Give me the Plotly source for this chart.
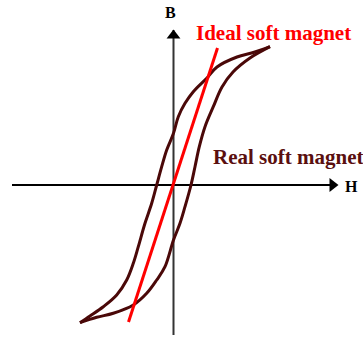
import plotly.graph_objects as go

# Hysteresis loop of a real soft magnet (H, B in arbitrary units)
# descending branch: from positive saturation back to negative saturation
desc_H = [9.65, 7.98, 6.35, 4.35, 3.32, 1.98, 1.15, 0.48, 0.0, -0.68, -1.18, -1.68,
          -2.18, -2.85, -3.52, -4.02, -4.68, -5.68, -7.02, -8.35, -9.35]
desc_B = [13.83, 13.25, 12.8, 11.8, 10.67, 9.33, 8.17, 6.83, 5.17, 3.5, 1.83, 0.0,
          -1.83, -3.83, -6.17, -7.83, -9.5, -11.0, -12.17, -13.1, -13.77]
# ascending branch: from negative saturation up to positive saturation
asc_H = [-9.35, -7.68, -6.02, -4.02, -2.68, -1.68, -0.85, 0.0, 0.65, 1.15, 1.75,
         2.15, 2.58, 3.15, 3.98, 4.85, 5.95, 7.65, 9.65]
asc_B = [-13.77, -13.23, -12.83, -12.0, -10.83, -9.5, -8.17, -5.5, -3.83, -2.17, 0.0,
         1.83, 3.83, 5.83, 7.83, 9.8, 11.3, 12.7, 13.83]

# Ideal soft magnet: straight line through the origin
ideal_H = [-4.5, 4.4]
ideal_B = [-13.7, 13.7]

# Extent of the drawn H and B axes
h_axis = [-16.15, 16.35]
b_axis = [-15.0, 15.5]

LOOP = "#4a0808"
RED = "#ff0000"
SERIF = "Liberation Serif, Times New Roman, serif"

fig = go.Figure()

# Coordinate axes
fig.add_trace(go.Scatter(x=h_axis, y=[0, 0], mode="lines",
                         line=dict(color="#000000", width=2), hoverinfo="skip"))
fig.add_trace(go.Scatter(x=[0, 0], y=b_axis, mode="lines",
                         line=dict(color="#333333", width=2), hoverinfo="skip"))
# Arrowheads
fig.add_trace(go.Scatter(x=[h_axis[1] - 0.45], y=[0], mode="markers",
                         marker=dict(symbol="triangle-right", size=12, color="#000000"),
                         hoverinfo="skip"))
fig.add_trace(go.Scatter(x=[0], y=[b_axis[1] - 0.55], mode="markers",
                         marker=dict(symbol="triangle-up", size=12, color="#000000"),
                         hoverinfo="skip"))

# Real soft magnet loop
for hx, by in ((desc_H, desc_B), (asc_H, asc_B)):
    fig.add_trace(go.Scatter(x=hx, y=by, mode="lines",
                             line=dict(color=LOOP, width=3, shape="spline", smoothing=1.0),
                             hoverinfo="skip"))

# Ideal soft magnet line
fig.add_trace(go.Scatter(x=ideal_H, y=ideal_B, mode="lines",
                         line=dict(color=RED, width=3), hoverinfo="skip"))

annotations = [
    dict(x=2.05, y=15.2, text="<b>Ideal soft magnet</b>", xanchor="left", yanchor="middle",
         font=dict(family=SERIF, size=21, color=RED)),
    dict(x=3.7, y=2.8, text="<b>Real soft magnet</b>", xanchor="left", yanchor="middle",
         font=dict(family=SERIF, size=21, color="#5a0f0f")),
    dict(x=-0.35, y=17.3, text="<b>B</b>", xanchor="center", yanchor="middle",
         font=dict(family=SERIF, size=16, color="#000000")),
    dict(x=17.75, y=-0.1, text="<b>H</b>", xanchor="center", yanchor="middle",
         font=dict(family=SERIF, size=16, color="#000000")),
]
for a in annotations:
    a.update(xref="x", yref="y", showarrow=False)

fig.update_layout(
    width=363, height=338,
    margin=dict(l=0, r=0, t=0, b=0),
    paper_bgcolor="white", plot_bgcolor="white",
    showlegend=False,
    annotations=annotations,
    xaxis=dict(range=[-17.35, 18.95], visible=False, fixedrange=True),
    yaxis=dict(range=[-15.3, 18.5], visible=False, fixedrange=True),
)

fig.write_html("out.html", config={"displayModeBar": False})
